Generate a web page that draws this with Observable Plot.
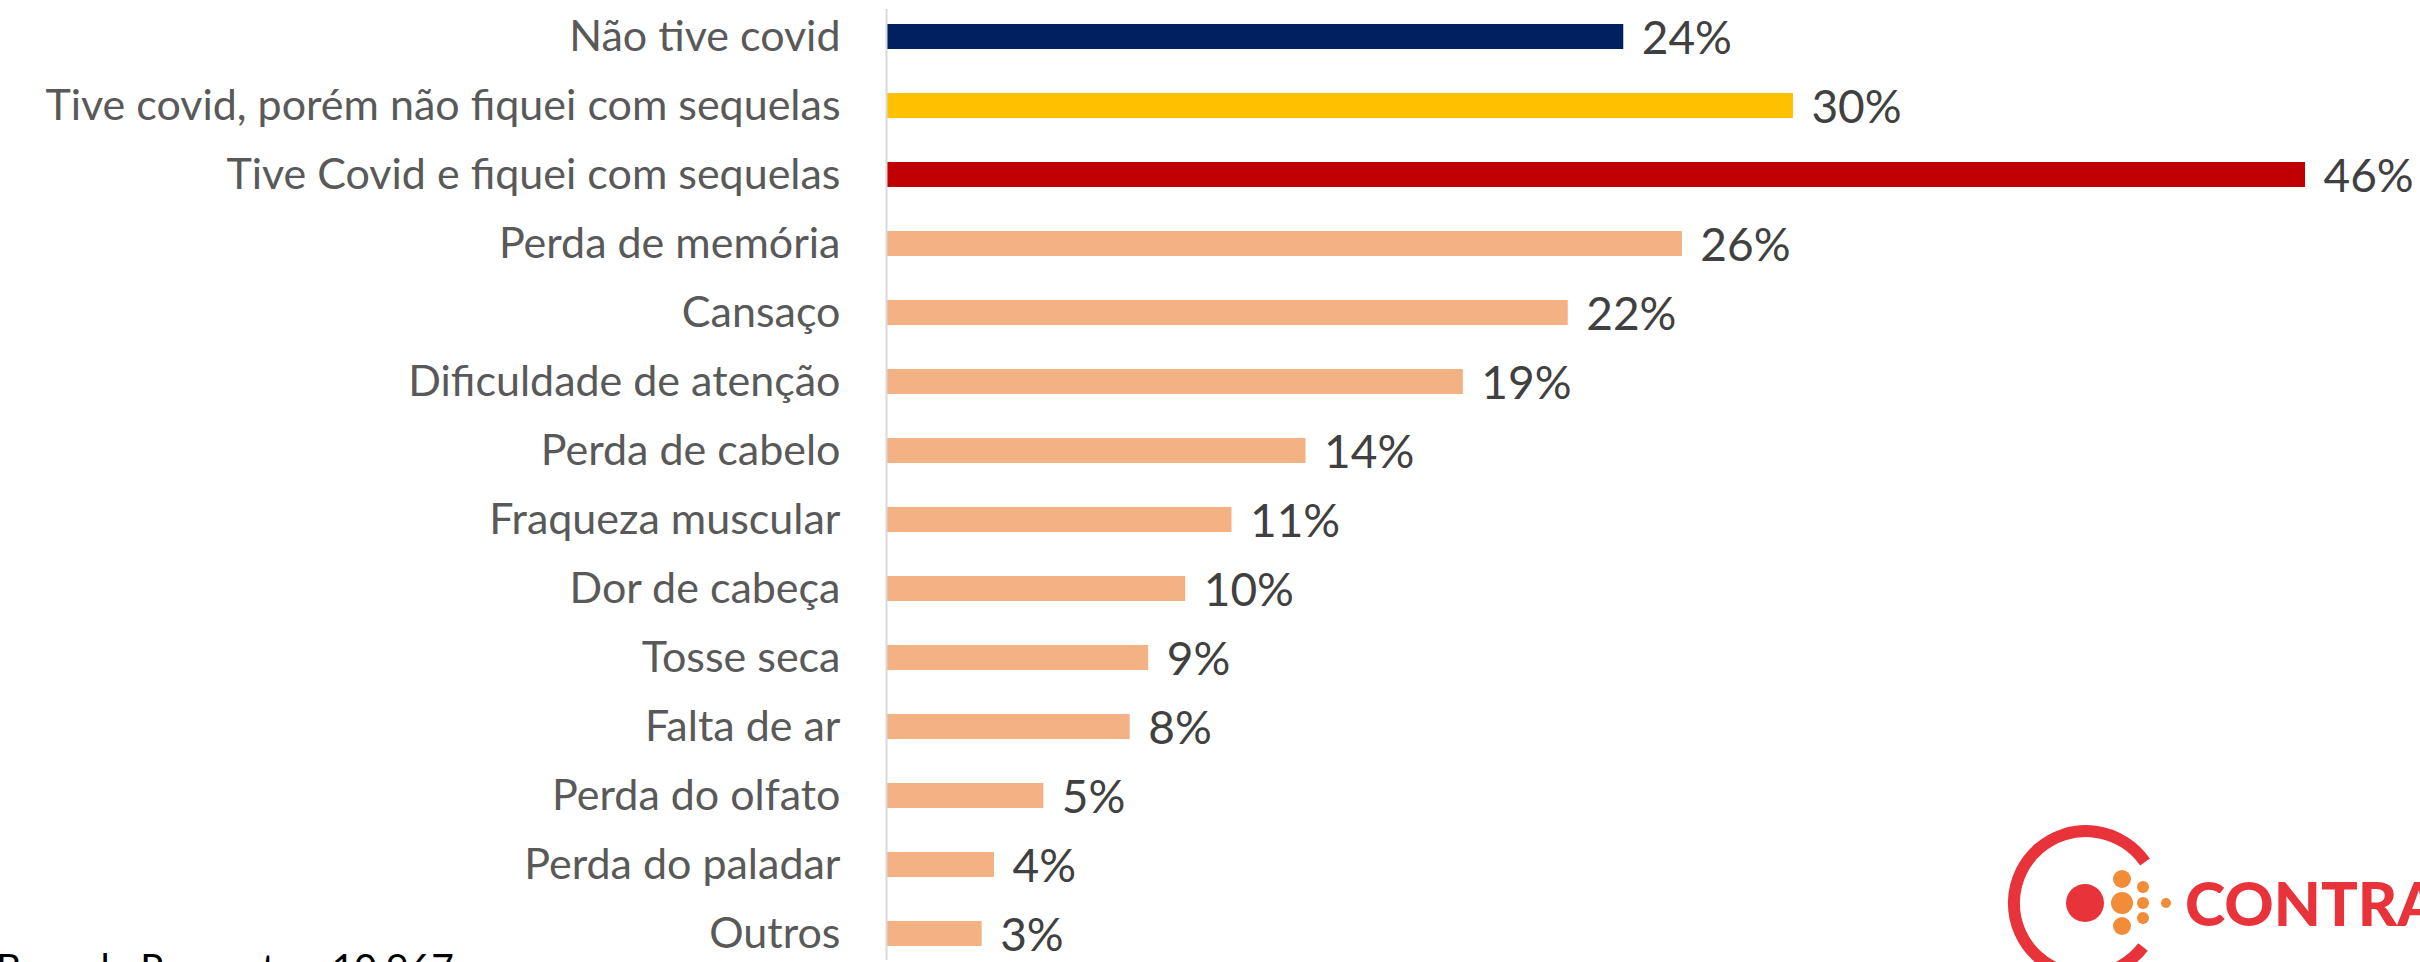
<!DOCTYPE html>
<html>
<head>
<meta charset="utf-8">
<script src="https://cdn.jsdelivr.net/npm/d3@7"></script>
<script src="https://cdn.jsdelivr.net/npm/@observablehq/plot@0.6"></script>
<style>
  html, body { margin: 0; padding: 0; background: #fff; overflow: hidden; }
  #wrap { position: relative; width: 2420px; height: 962px; overflow: hidden; }
  #chart { position: absolute; left: 0; top: 0; }
  #overlay { position: absolute; left: 0; top: 0; pointer-events: none; }
</style>
</head>
<body>
<div id="wrap">
  <div id="chart"></div>
  <svg id="overlay" width="2420" height="962" viewBox="0 0 2420 962">
    <text x="-4" y="982" font-family="Lato" font-size="39" fill="#000">Base de Respostas: 10.967</text>
    <path d="M 2145 862 A 72 72 0 1 0 2143 947" fill="none" stroke="#e8333a" stroke-width="12"/>
    <circle cx="2085" cy="903" r="19" fill="#e8333a"/>
    <circle cx="2122" cy="879" r="9" fill="#f28c38"/>
    <circle cx="2122" cy="903" r="11" fill="#f28c38"/>
    <circle cx="2122" cy="926" r="9" fill="#f28c38"/>
    <circle cx="2143" cy="887" r="6" fill="#f28c38"/>
    <circle cx="2143" cy="903" r="6" fill="#f28c38"/>
    <circle cx="2143" cy="918" r="6" fill="#f28c38"/>
    <circle cx="2166" cy="903" r="5" fill="#f28c38"/>
    <text x="2185" y="926" font-family="Lato" font-weight="900" font-size="61" fill="#e8333a">CONTRA</text>
  </svg>
</div>
<script>
const categories = [
  "Não tive covid",
  "Tive covid, porém não fiquei com sequelas",
  "Tive Covid e fiquei com sequelas",
  "Perda de memória",
  "Cansaço",
  "Dificuldade de atenção",
  "Perda de cabelo",
  "Fraqueza muscular",
  "Dor de cabeça",
  "Tosse seca",
  "Falta de ar",
  "Perda do olfato",
  "Perda do paladar",
  "Outros"
];
const values = [23.9, 29.4, 46, 25.8, 22.1, 18.7, 13.6, 11.2, 9.7, 8.5, 7.9, 5.1, 3.5, 3.1];
const valueLabels = ["24%", "30%", "46%", "26%", "22%", "19%", "14%", "11%", "10%", "9%", "8%", "5%", "4%", "3%"];
const groups = ["sem covid", "sem sequelas", "com sequelas", "sequela", "sequela", "sequela", "sequela", "sequela", "sequela", "sequela", "sequela", "sequela", "sequela", "sequela"];

const data = categories.map((c, i) => ({cat: c, value: values[i], label: valueLabels[i], group: groups[i]}));

const chart = Plot.plot({
  width: 2420,
  height: 962,
  marginLeft: 886,
  marginRight: 115,
  marginTop: 9,
  marginBottom: 2,
  style: {fontFamily: "Lato", background: "transparent"},
  x: {domain: [0, 46], axis: null},
  y: {domain: categories, paddingInner: 0.638, paddingOuter: 0.2, axis: null},
  color: {domain: ["sem covid", "sem sequelas", "com sequelas", "sequela"], range: ["#002060", "#FFC000", "#C00000", "#F4B183"]},
  marks: [
    Plot.barX(data, {x: "value", y: "cat", fill: "group"}),
    Plot.ruleX([0], {stroke: "#d9d9d9", strokeWidth: 2}),
    Plot.text(data, {x: "value", y: "cat", text: "label", textAnchor: "start", dx: 18, dy: 2, fontSize: 46, fill: "#404040"}),
    Plot.axisY({tickSize: 0, tickPadding: 46, fontSize: 43, color: "#595959", label: null})
  ]
});
document.getElementById("chart").appendChild(chart);
</script>
</body>
</html>
